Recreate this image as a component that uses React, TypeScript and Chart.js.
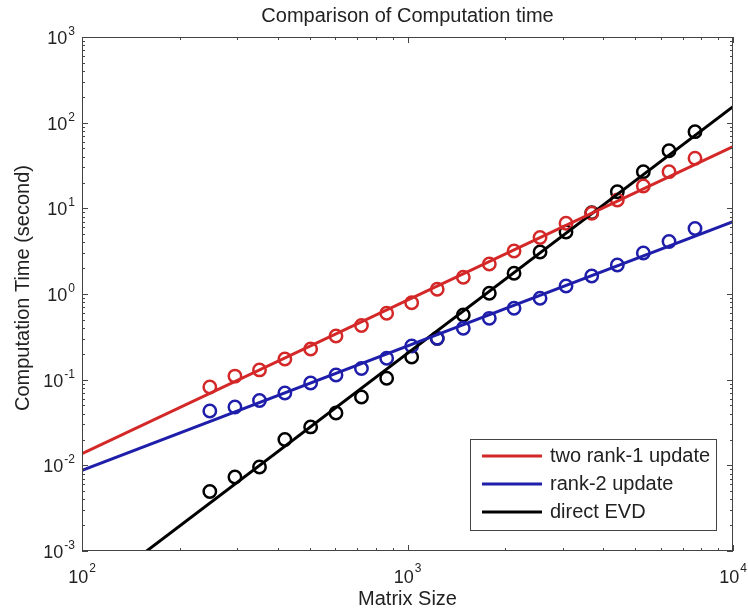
import React, { useEffect, useRef } from "react";
import { Chart, registerables } from "chart.js";

Chart.register(...registerables);

// ---- data ----
const matrixSizes = [247, 295, 351, 420, 504, 603, 722, 863, 1030, 1234, 1484, 1784, 2125, 2554, 3069, 3681, 4412, 5303, 6360, 7643];
const twoRank1Times = [0.082, 0.11, 0.13, 0.174, 0.228, 0.324, 0.429, 0.595, 0.791, 1.135, 1.567, 2.24, 3.18, 4.57, 6.69, 8.75, 12.5, 18.2, 26.8, 38.4];
const rank2Times = [0.0431, 0.048, 0.0571, 0.0699, 0.0915, 0.1135, 0.1351, 0.1777, 0.2472, 0.304, 0.398, 0.52, 0.681, 0.891, 1.24, 1.62, 2.18, 3.01, 4.1, 5.82];
const directEvdTimes = [0.00495, 0.00731, 0.00957, 0.02, 0.0281, 0.0408, 0.0628, 0.1038, 0.184, 0.303, 0.569, 1.019, 1.745, 3.09, 5.3, 8.9, 15.6, 26.8, 47.1, 78.5];

const fitSizes = [100, 10000];
const twoRank1Fit = [0.0137, 52.4];
const rank2Fit = [0.00875, 6.98];
const directEvdFit = [0.000268, 153.6];

const seriesLabels = ["two rank-1 update", "rank-2 update", "direct EVD"];
const seriesColors = ["#d42828", "#1e1eaa", "#000000"];

const xTickValues = [100, 1000, 10000];
const xTickExponents = ["2", "3", "4"];
const yTickValues = [0.001, 0.01, 0.1, 1, 10, 100, 1000];
const yTickExponents = ["-3", "-2", "-1", "0", "1", "2", "3"];

const chartTitle = "Comparison of Computation time";
const xTitle = "Matrix Size";
const yTitle = "Computation Time (second)";

const FONT = "'Liberation Sans', Arial, Helvetica, sans-serif";

function pts(xs: number[], ys: number[]) {
  return xs.map((x, i) => ({ x, y: ys[i] }));
}

const decorPlugin = {
  id: "matlabDecor",
  afterDatasetsDraw(chart: any) {
    const ctx: CanvasRenderingContext2D = chart.ctx;
    const area = chart.chartArea;
    const xs = chart.scales.x;
    const ys = chart.scales.y;
    ctx.save();

    // box
    ctx.strokeStyle = "#444";
    ctx.lineWidth = 1;
    ctx.strokeRect(area.left + 0.5, area.top + 0.5, area.right - area.left - 1, area.bottom - area.top - 1);

    // ticks
    ctx.beginPath();
    for (let d = 2; d <= 4; d++) {
      for (let m = 1; m <= 9; m++) {
        const v = m * Math.pow(10, d);
        if (v < 100 || v > 10000) continue;
        const px = Math.round(xs.getPixelForValue(v)) + 0.5;
        const len = m === 1 ? 6 : 3;
        ctx.moveTo(px, area.bottom);
        ctx.lineTo(px, area.bottom - len);
        ctx.moveTo(px, area.top);
        ctx.lineTo(px, area.top + len);
      }
    }
    for (let d = -3; d <= 3; d++) {
      for (let m = 1; m <= 9; m++) {
        const v = m * Math.pow(10, d);
        if (v < 0.001 * 0.999 || v > 1000 * 1.001) continue;
        const py = Math.round(ys.getPixelForValue(v)) + 0.5;
        const len = m === 1 ? 6 : 3;
        ctx.moveTo(area.left, py);
        ctx.lineTo(area.left + len, py);
        ctx.moveTo(area.right, py);
        ctx.lineTo(area.right - len, py);
      }
    }
    ctx.stroke();

    ctx.fillStyle = "#222";
    // x tick labels
    xTickValues.forEach((v, i) => {
      const px = xs.getPixelForValue(v);
      ctx.font = `18px ${FONT}`;
      const w1 = ctx.measureText("10").width;
      ctx.font = `12px ${FONT}`;
      const w2 = ctx.measureText(xTickExponents[i]).width;
      const total = w1 + 1 + w2;
      const start = px - total / 2;
      ctx.textAlign = "left";
      ctx.textBaseline = "alphabetic";
      ctx.font = `18px ${FONT}`;
      ctx.fillText("10", start, area.bottom + 32);
      ctx.font = `12px ${FONT}`;
      ctx.fillText(xTickExponents[i], start + w1 + 1, area.bottom + 21);
    });
    // y tick labels
    yTickValues.forEach((v, i) => {
      const py = ys.getPixelForValue(v);
      ctx.font = `12px ${FONT}`;
      const w2 = ctx.measureText(yTickExponents[i]).width;
      const right = area.left - 7;
      ctx.textAlign = "left";
      ctx.textBaseline = "alphabetic";
      ctx.fillText(yTickExponents[i], right - w2, py - 2);
      ctx.font = `18px ${FONT}`;
      ctx.textAlign = "right";
      ctx.fillText("10", right - w2 - 1, py + 7);
    });

    // title
    ctx.font = `20px ${FONT}`;
    ctx.textAlign = "center";
    ctx.textBaseline = "alphabetic";
    const cx = (area.left + area.right) / 2;
    ctx.fillText(chartTitle, cx, area.top - 15);
    ctx.fillText(xTitle, cx, area.bottom + 54);
    ctx.save();
    ctx.translate(29, (area.top + area.bottom) / 2 - 6);
    ctx.rotate(-Math.PI / 2);
    ctx.fillText(yTitle, 0, 0);
    ctx.restore();

    // legend
    const lx = area.left + 388;
    const ly = area.top + 402;
    const lw = 246;
    const lh = 91;
    ctx.fillStyle = "#fff";
    ctx.fillRect(lx, ly, lw, lh);
    ctx.strokeStyle = "#444";
    ctx.lineWidth = 1;
    ctx.strokeRect(lx + 0.5, ly + 0.5, lw, lh);
    seriesLabels.forEach((label, i) => {
      const y = ly + 17 + i * 28;
      ctx.strokeStyle = seriesColors[i];
      ctx.lineWidth = 3;
      ctx.beginPath();
      ctx.moveTo(lx + 12, y);
      ctx.lineTo(lx + 72, y);
      ctx.stroke();
      ctx.fillStyle = "#222";
      ctx.font = `20px ${FONT}`;
      ctx.textAlign = "left";
      ctx.textBaseline = "alphabetic";
      ctx.fillText(label, lx + 80, y + 6);
    });

    ctx.restore();
  },
};

export default function App() {
  const canvasRef = useRef<HTMLCanvasElement | null>(null);

  useEffect(() => {
    if (!canvasRef.current) return;
    const markerSets = [twoRank1Times, rank2Times, directEvdTimes];
    const fitSets = [twoRank1Fit, rank2Fit, directEvdFit];
    const datasets: any[] = [];
    fitSets.forEach((fit, i) => {
      datasets.push({
        label: seriesLabels[i] + " fit",
        data: pts(fitSizes, fit),
        showLine: true,
        borderColor: seriesColors[i],
        borderWidth: 3,
        pointRadius: 0,
        fill: false,
      });
    });
    markerSets.forEach((vals, i) => {
      datasets.push({
        label: seriesLabels[i],
        data: pts(matrixSizes, vals),
        showLine: false,
        borderColor: seriesColors[i],
        backgroundColor: "rgba(0,0,0,0)",
        pointBorderColor: seriesColors[i],
        pointBackgroundColor: "rgba(0,0,0,0)",
        pointBorderWidth: 2.5,
        pointRadius: 6.2,
        pointStyle: "circle",
      });
    });

    const chart = new Chart(canvasRef.current, {
      type: "scatter",
      data: { datasets },
      options: {
        responsive: false,
        animation: false,
        devicePixelRatio: 1,
        events: [],
        layout: { padding: { left: 82, top: 37, right: 15, bottom: 63 } },
        scales: {
          x: { type: "logarithmic", min: 100, max: 10000, display: false },
          y: { type: "logarithmic", min: 0.001, max: 1000, display: false },
        },
        plugins: {
          legend: { display: false },
          tooltip: { enabled: false },
          title: { display: false },
        },
      } as any,
      plugins: [decorPlugin],
    });
    return () => chart.destroy();
  }, []);

  return (
    <div style={{ position: "absolute", left: 0, top: 0, width: 748, height: 614, background: "#fff" }}>
      <canvas ref={canvasRef} width={748} height={614} style={{ width: 748, height: 614, display: "block" }} />
    </div>
  );
}
